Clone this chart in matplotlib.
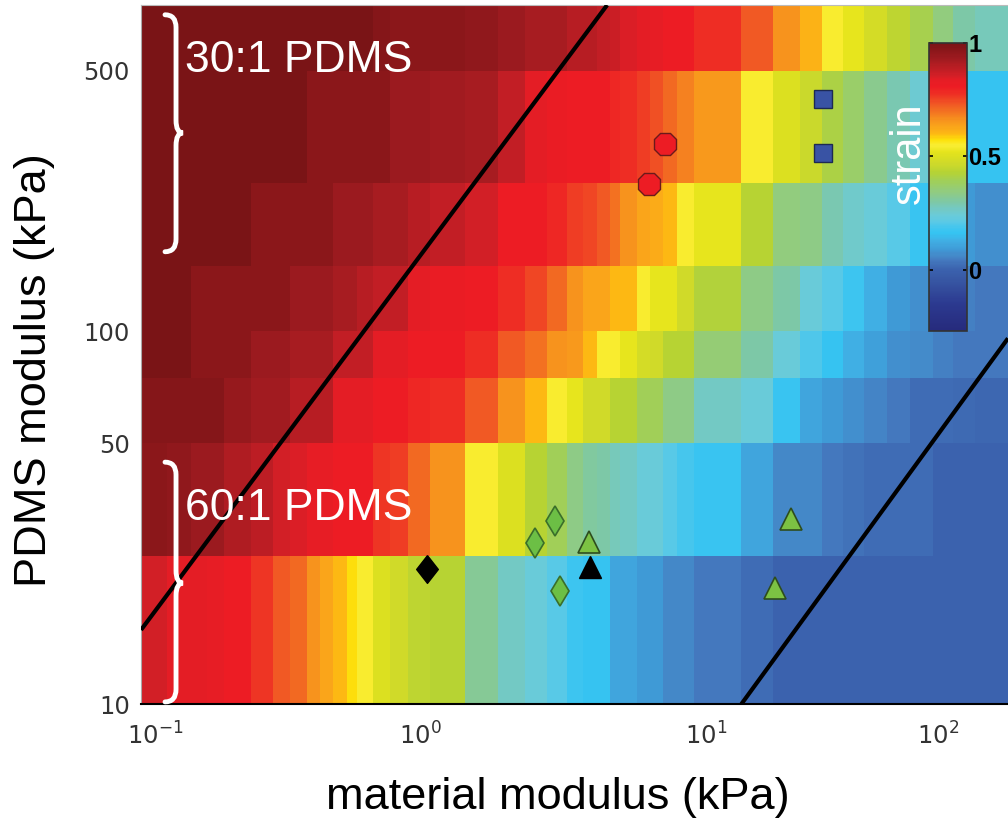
import numpy as np
import matplotlib
matplotlib.use('Agg')
import matplotlib.pyplot as plt
from matplotlib.colors import LinearSegmentedColormap, Normalize
from matplotlib.ticker import NullLocator
from matplotlib.path import Path
from matplotlib.patches import PathPatch

plt.rcParams['font.family'] = ['Liberation Sans', 'DejaVu Sans']
plt.rcParams['mathtext.fontset'] = 'dejavusans'

# %% data
# material modulus cell edges (kPa)
material_edges = [0.0886, 0.111, 0.137, 0.157, 0.182, 0.230, 0.279, 0.323, 0.375, 0.420,
                  0.469, 0.530, 0.578, 0.665, 0.770, 0.901, 1.08, 1.44, 1.87, 2.33,
                  2.78, 3.27, 3.72, 4.16, 4.62, 5.01, 5.74, 6.37, 7.07, 7.92,
                  9.08, 14.2, 19.5, 25.4, 31.6, 39.0, 48.0, 60.3, 75.7, 95.1,
                  116, 144, 200]
# PDMS modulus row edges (kPa)
pdms_edges = [10, 25, 50, 75, 100, 150, 250, 500, 750]

# strain per row (top row of the picture first)
strain_500_750 = [1.00, 1.00, 1.00, 1.00, 1.00, 1.00, 1.00, 1.00, 1.00, 1.00, 1.00, 1.00, 1.00, 0.98,
                  0.97, 0.97, 0.97, 0.96, 0.94, 0.92, 0.92, 0.90, 0.90, 0.88, 0.87, 0.85, 0.84, 0.83,
                  0.81, 0.81, 0.78, 0.73, 0.66, 0.61, 0.55, 0.52, 0.48, 0.44, 0.40, 0.35, 0.30, 0.28]
strain_250_500 = [1.00, 1.00, 1.00, 1.00, 1.00, 1.00, 1.00, 1.00, 0.97, 0.97, 0.97, 0.97, 0.97, 0.97,
                  0.94, 0.94, 0.93, 0.92, 0.88, 0.84, 0.82, 0.81, 0.81, 0.81, 0.79, 0.78, 0.76, 0.74,
                  0.71, 0.68, 0.65, 0.55, 0.50, 0.46, 0.41, 0.37, 0.33, 0.29, 0.25, 0.18, 0.16, 0.16]
strain_150_250 = [1.00, 1.00, 1.00, 1.00, 1.00, 0.97, 0.97, 0.97, 0.97, 0.97, 0.94, 0.94, 0.94, 0.92,
                  0.92, 0.90, 0.88, 0.86, 0.81, 0.81, 0.79, 0.76, 0.75, 0.73, 0.70, 0.66, 0.63, 0.62,
                  0.60, 0.55, 0.52, 0.43, 0.35, 0.34, 0.29, 0.26, 0.24, 0.21, 0.17, 0.13, 0.09, 0.075]
strain_100_150 = [1.00, 1.00, 0.97, 0.97, 0.97, 0.97, 0.97, 0.94, 0.94, 0.94, 0.92, 0.92, 0.90, 0.88,
                  0.88, 0.84, 0.82, 0.81, 0.78, 0.75, 0.71, 0.66, 0.63, 0.63, 0.60, 0.60, 0.55, 0.52,
                  0.52, 0.47, 0.42, 0.34, 0.30, 0.24, 0.21, 0.18, 0.13, 0.09, 0.075, 0.06, 0.05, 0.04]
strain_75_100 = [1.00, 1.00, 0.97, 0.97, 0.97, 0.94, 0.94, 0.92, 0.92, 0.92, 0.88, 0.88, 0.88, 0.84,
                 0.84, 0.81, 0.81, 0.78, 0.73, 0.70, 0.66, 0.65, 0.60, 0.55, 0.55, 0.52, 0.48, 0.47,
                 0.43, 0.43, 0.36, 0.30, 0.24, 0.20, 0.16, 0.13, 0.10, 0.075, 0.065, 0.05, 0.04, 0.04]
strain_50_75 = [0.98, 0.98, 0.98, 0.98, 0.95, 0.93, 0.93, 0.90, 0.90, 0.90, 0.84, 0.84, 0.84, 0.81,
                0.81, 0.79, 0.78, 0.73, 0.66, 0.60, 0.55, 0.52, 0.47, 0.47, 0.43, 0.43, 0.39, 0.39,
                0.34, 0.34, 0.27, 0.24, 0.17, 0.11, 0.09, 0.075, 0.055, 0.04, 0.02, 0.02, 0.015, 0.01]
strain_25_50 = [0.97, 0.96, 0.94, 0.94, 0.91, 0.89, 0.86, 0.85, 0.83, 0.83, 0.81, 0.81, 0.81, 0.77,
                0.76, 0.71, 0.66, 0.55, 0.50, 0.43, 0.39, 0.34, 0.31, 0.30, 0.28, 0.27, 0.24, 0.24,
                0.21, 0.19, 0.17, 0.11, 0.06, 0.06, 0.04, 0.03, 0.02, 0.02, 0.02, 0.00, 0.00, 0.00]
strain_10_25 = [0.86, 0.84, 0.84, 0.83, 0.81, 0.77, 0.73, 0.71, 0.66, 0.63, 0.60, 0.575, 0.55, 0.50,
                0.47, 0.44, 0.43, 0.32, 0.27, 0.24, 0.21, 0.18, 0.16, 0.16, 0.11, 0.11, 0.09, 0.09,
                0.06, 0.06, 0.04, 0.02, 0.00, 0.00, 0.00, 0.00, 0.00, 0.00, 0.00, 0.00, 0.00, 0.00]

# measured samples (material modulus, PDMS modulus)
oct_x, oct_y = [7.2, 6.3], [317, 248]
sq_x, sq_y = [32, 32], [420, 300]
blk_dia_x, blk_dia_y = [1.06], [23]
grn_dia_x, grn_dia_y = [2.52, 2.97, 3.09], [27.1, 31.0, 20.1]
grn_tri_x, grn_tri_y = [3.9, 23.2, 19.8], [27.2, 31.3, 20.5]
blk_tri_x, blk_tri_y = [3.93], [23.3]

# boundary lines
upper_x, upper_y = [0.0886, 4.51], [15.8, 750]
lower_x, lower_y = [14.2, 200], [10, 95.7]

# colour scale (strain value, colour)
cmap_vals = [-0.27, -0.15, -0.05, 0.0, 0.02, 0.04, 0.06, 0.075, 0.09, 0.11, 0.13, 0.16, 0.18,
             0.21, 0.24, 0.27, 0.30, 0.34, 0.39, 0.43, 0.47, 0.50, 0.52, 0.55, 0.575, 0.60,
             0.63, 0.66, 0.68, 0.71, 0.73, 0.76, 0.78, 0.81, 0.84, 0.86, 0.88, 0.90, 0.92,
             0.94, 0.97, 1.0]
cmap_cols = ['#262a7c', '#2c3a90', '#3756a3', '#3b62ae', '#3f6db5', '#4479bf', '#4489c9', '#4290cf',
             '#3f9bd7', '#40a6de', '#40b0e5', '#35c4f2', '#3ec5f0', '#5ac9e6', '#6acbd8', '#74c9c2',
             '#7ec8a5', '#8fcb84', '#a0cf5a', '#b6d334', '#cfda2a', '#dbe020', '#e6e41c', '#f9ed32',
             '#fde10a', '#fdb913', '#faa61a', '#f7941d', '#f58220', '#f26a22', '#f15a24', '#ef3e24',
             '#ee2d24', '#ed1c24', '#e51d25', '#d21f26', '#c21e25', '#b71d23', '#a71c21', '#9b1a1f',
             '#8b171a', '#7a1416']

# %% axis scale: decades are not equally wide in the original
dec_log = [-2, -1, 0, 1, 2, 3]
dec_pos = [-110, 155, 420, 706, 938, 1170]


def fwd(x):
    return np.interp(np.log10(np.clip(x, 1e-9, None)), dec_log, dec_pos)


def inv(u):
    return 10 ** np.interp(u, dec_pos, dec_log)


vmin, vmax = cmap_vals[0], cmap_vals[-1]
cmap = LinearSegmentedColormap.from_list(
    'strain', [((v - vmin) / (vmax - vmin), c) for v, c in zip(cmap_vals, cmap_cols)])
norm = Normalize(vmin, vmax)

strain = np.array([strain_10_25, strain_25_50, strain_50_75, strain_75_100,
                   strain_100_150, strain_150_250, strain_250_500, strain_500_750])

fig = plt.figure(figsize=(10.08, 8.25), dpi=100)
ax = fig.add_axes([141/1008, 121/825, 867/1008, 699/825])
ax.set_xscale('function', functions=(fwd, inv))
ax.set_yscale('log')

mesh = ax.pcolormesh(material_edges, pdms_edges, strain, cmap=cmap, norm=norm,
                     shading='flat', edgecolors='none', antialiased=False)

ax.plot(upper_x, upper_y, color='k', lw=3, solid_capstyle='butt', zorder=3)
ax.plot(lower_x, lower_y, color='k', lw=3, solid_capstyle='butt', zorder=3)

# markers
ax.plot(oct_x, oct_y, ls='none', marker='8', ms=17, mfc='#ed1c24', mec='#6b1a1a', mew=1, zorder=5)
ax.plot(sq_x, sq_y, ls='none', marker='s', ms=13, mfc='#3953a4', mec='#1d2a52', mew=1, zorder=5)
dia = [(0, 1), (0.78, 0), (0, -1), (-0.78, 0), (0, 1)]
ax.plot(blk_dia_x, blk_dia_y, ls='none', marker=dia, ms=20, mfc='k', mec='k', zorder=5)
ax.plot(grn_dia_x, grn_dia_y, ls='none', marker='d', ms=15, mfc='#6cbf45', mec='#3a6e2a', mew=1.2, zorder=5)
ax.plot(grn_tri_x, grn_tri_y, ls='none', marker='^', ms=16, mfc='#7cc243', mec='#2e4d1e', mew=1.2, zorder=5)
ax.plot(blk_tri_x, blk_tri_y, ls='none', marker='^', ms=16, mfc='k', mec='k', zorder=5)

ax.set_xlim(material_edges[0], material_edges[-1])
ax.set_ylim(pdms_edges[0], pdms_edges[-1])

ax.set_xticks([0.1, 1, 10, 100])
ax.set_xticklabels([r'$10^{-1}$', r'$10^{0}$', r'$10^{1}$', r'$10^{2}$'])
ax.set_yticks([10, 50, 100, 500])
ax.set_yticklabels(['10', '50', '100', '500'])
ax.xaxis.set_minor_locator(NullLocator())
ax.yaxis.set_minor_locator(NullLocator())
for lab in ax.get_xticklabels() + ax.get_yticklabels():
    lab.set_family('DejaVu Sans')
ax.tick_params(length=0, labelsize=17.5, colors='#333333')
ax.tick_params(axis='x', pad=13)
ax.tick_params(axis='y', pad=8)

ax.spines['bottom'].set_linewidth(1.5)
ax.spines['right'].set_visible(False)
ax.spines['top'].set_color('#bbbbbb')
ax.spines['top'].set_linewidth(0.8)
ax.spines['left'].set_color('#aaaaaa')
ax.spines['left'].set_linewidth(0.8)


# curly braces for the two PDMS mixes
def brace(x0, xm, x1, top, mid, bot, r):
    verts = [(x0, top), (xm, top), (xm, top - r), (xm, mid + r), (xm, mid), (x1, mid),
             (xm, mid), (xm, mid - r), (xm, bot + r), (xm, bot), (x0, bot)]
    codes = [Path.MOVETO, Path.CURVE3, Path.CURVE3, Path.LINETO, Path.CURVE3, Path.CURVE3,
             Path.CURVE3, Path.CURVE3, Path.LINETO, Path.CURVE3, Path.CURVE3]
    ax.add_patch(PathPatch(Path(verts, codes), transform=ax.transAxes, fill=False,
                           ec='white', lw=3.5, capstyle='round', zorder=6, clip_on=False))


brace(0.0277, 0.0404, 0.0484, 0.986, 0.817, 0.647, 0.018)
brace(0.0277, 0.0404, 0.0484, 0.346, 0.173, 0.003, 0.018)

ax.text(0.051, 0.921, '30:1 PDMS', transform=ax.transAxes, color='white', fontsize=32,
        ha='left', va='center', zorder=6)
ax.text(0.051, 0.279, '60:1 PDMS', transform=ax.transAxes, color='white', fontsize=32,
        ha='left', va='center', zorder=6)
ax.text(0.886, 0.788, 'strain', transform=ax.transAxes, color='white', fontsize=30,
        rotation=90, ha='center', va='center', zorder=6)

fig.text(558/1008, 1 - 798/825, 'material modulus (kPa)', fontsize=32.5, ha='center', va='center')
fig.text(35/1008, 1 - 370/825, 'PDMS modulus (kPa)', fontsize=32.5, rotation=90,
         ha='center', va='center')

# colorbar
cax = fig.add_axes([929/1008, (825 - 331)/825, 38/1008, 288/825])
cb = fig.colorbar(mesh, cax=cax, ticks=[0, 0.5, 1])
cb.ax.set_yticklabels(['0', '0.5', '1'])
cb.ax.tick_params(direction='in', length=3, width=1.2, left=True, right=True,
                  pad=1, labelsize=17, colors='k')
for lab in cb.ax.get_yticklabels():
    lab.set_fontweight('bold')
cb.outline.set_edgecolor('#333333')
cb.outline.set_linewidth(1.2)

plt.savefig('out.png', dpi=100)
